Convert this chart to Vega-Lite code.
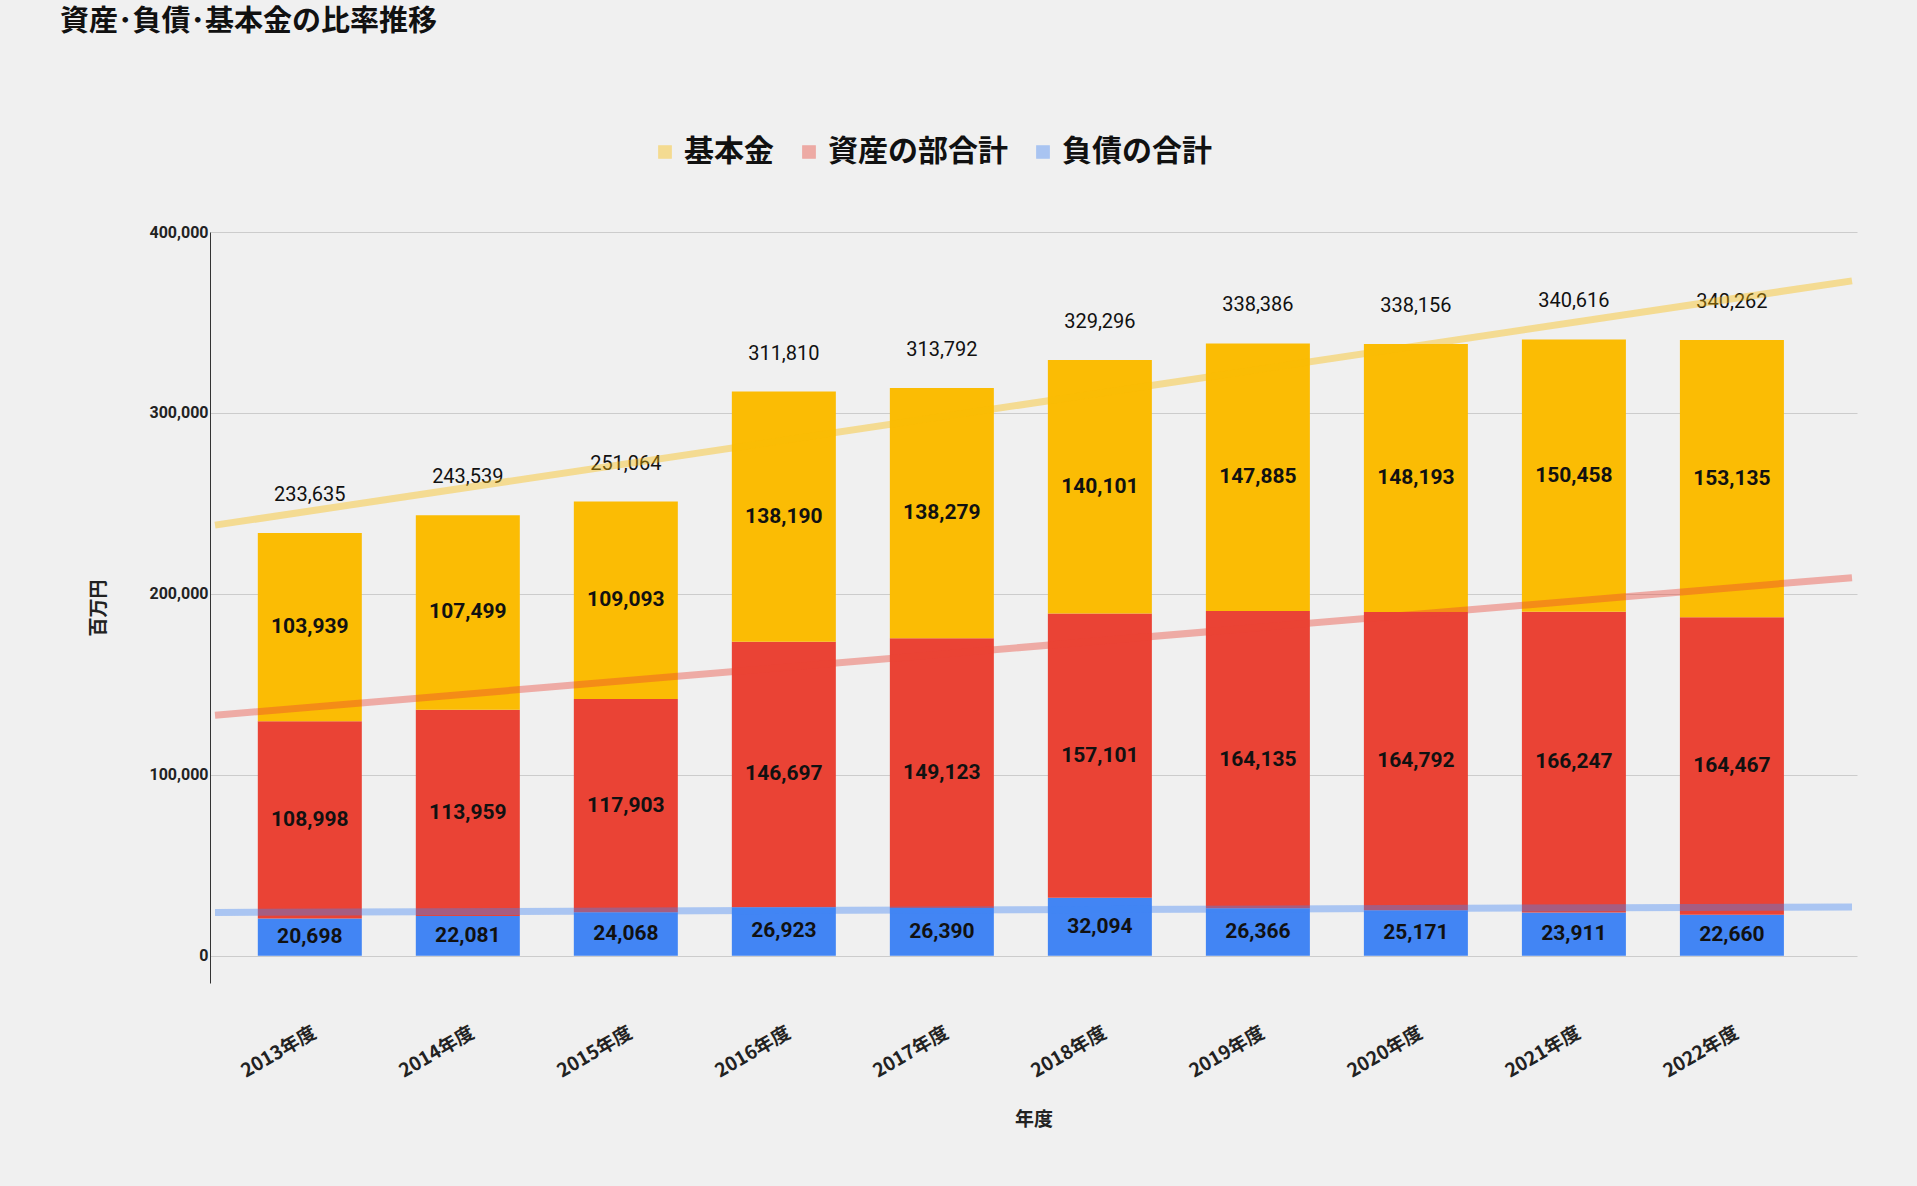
{
  "$schema": "https://vega.github.io/schema/vega-lite/v6.json",
  "width": 1647,
  "height": 751,
  "autosize": {"type": "none"},
  "padding": {"left": 210, "top": 232, "right": 60, "bottom": 203},
  "background": "#F0F0F0",
  "config": {
    "font": "Noto Sans CJK JP",
    "view": {"stroke": null},
    "axis": {"labelFont": "Roboto", "titleFont": "Noto Sans CJK JP", "titleFontSize": 19, "titleFontWeight": "bold", "labelFontWeight": "bold", "labelColor": "#222", "titleColor": "#222"}
  },
  "title": {"text": "資産･負債･基本金の比率推移", "anchor": "start", "frame": "group", "dx": -150, "offset": 100, "fontSize": 29, "fontWeight": "bold", "color": "#111"},
  "datasets": {
    "bars": [
      {"year": 2013, "cat": "負債の合計", "ord": 0, "value": 20698},
      {"year": 2013, "cat": "資産の部合計", "ord": 1, "value": 108998},
      {"year": 2013, "cat": "基本金", "ord": 2, "value": 103939},
      {"year": 2014, "cat": "負債の合計", "ord": 0, "value": 22081},
      {"year": 2014, "cat": "資産の部合計", "ord": 1, "value": 113959},
      {"year": 2014, "cat": "基本金", "ord": 2, "value": 107499},
      {"year": 2015, "cat": "負債の合計", "ord": 0, "value": 24068},
      {"year": 2015, "cat": "資産の部合計", "ord": 1, "value": 117903},
      {"year": 2015, "cat": "基本金", "ord": 2, "value": 109093},
      {"year": 2016, "cat": "負債の合計", "ord": 0, "value": 26923},
      {"year": 2016, "cat": "資産の部合計", "ord": 1, "value": 146697},
      {"year": 2016, "cat": "基本金", "ord": 2, "value": 138190},
      {"year": 2017, "cat": "負債の合計", "ord": 0, "value": 26390},
      {"year": 2017, "cat": "資産の部合計", "ord": 1, "value": 149123},
      {"year": 2017, "cat": "基本金", "ord": 2, "value": 138279},
      {"year": 2018, "cat": "負債の合計", "ord": 0, "value": 32094},
      {"year": 2018, "cat": "資産の部合計", "ord": 1, "value": 157101},
      {"year": 2018, "cat": "基本金", "ord": 2, "value": 140101},
      {"year": 2019, "cat": "負債の合計", "ord": 0, "value": 26366},
      {"year": 2019, "cat": "資産の部合計", "ord": 1, "value": 164135},
      {"year": 2019, "cat": "基本金", "ord": 2, "value": 147885},
      {"year": 2020, "cat": "負債の合計", "ord": 0, "value": 25171},
      {"year": 2020, "cat": "資産の部合計", "ord": 1, "value": 164792},
      {"year": 2020, "cat": "基本金", "ord": 2, "value": 148193},
      {"year": 2021, "cat": "負債の合計", "ord": 0, "value": 23911},
      {"year": 2021, "cat": "資産の部合計", "ord": 1, "value": 166247},
      {"year": 2021, "cat": "基本金", "ord": 2, "value": 150458},
      {"year": 2022, "cat": "負債の合計", "ord": 0, "value": 22660},
      {"year": 2022, "cat": "資産の部合計", "ord": 1, "value": 164467},
      {"year": 2022, "cat": "基本金", "ord": 2, "value": 153135}
    ],
    "trends": [
      {"cat": "基本金", "x": 2012.4, "y": 238000},
      {"cat": "基本金", "x": 2022.76, "y": 373000},
      {"cat": "資産の部合計", "x": 2012.4, "y": 133000},
      {"cat": "資産の部合計", "x": 2022.76, "y": 209000},
      {"cat": "負債の合計", "x": 2012.4, "y": 24000},
      {"cat": "負債の合計", "x": 2022.76, "y": 27000}
    ]
  },
  "layer": [
    {
      "data": {"name": "bars"},
      "transform": [
        {"stack": "value", "groupby": ["year"], "sort": [{"field": "ord"}], "as": ["y0", "y1"]},
        {"calculate": "(datum.y0 + datum.y1) / 2", "as": "ymid"}
      ],
      "layer": [
        {
          "mark": {"type": "bar", "width": 104},
          "encoding": {
            "x": {"field": "year", "type": "quantitative", "scale": {"domain": [2012.4, 2022.76], "nice": false, "zero": false},
              "axis": {"values": [2013, 2014, 2015, 2016, 2017, 2018, 2019, 2020, 2021, 2022], "labelExpr": "datum.value + '年度'", "labelAngle": -30, "labelAlign": "right", "labelBaseline": "top", "labelFontSize": 19, "labelFont": "Noto Sans CJK JP", "labelPadding": 40, "ticks": false, "domain": false, "grid": false, "title": "年度", "titlePadding": 30}},
            "y": {"field": "y0", "type": "quantitative", "scale": {"domain": [-15000, 400000], "nice": false},
              "axis": {"values": [0, 100000, 200000, 300000, 400000], "format": ",d", "labelFontSize": 16, "gridColor": "#CCCCCC", "ticks": false, "domain": true, "domainColor": "#333", "title": "百万円", "titlePadding": 40}},
            "y2": {"field": "y1"},
            "color": {"field": "cat", "type": "nominal",
              "scale": {"domain": ["基本金", "資産の部合計", "負債の合計"], "range": ["#FBBC04", "#EA4335", "#4285F4"]},
              "legend": {"title": null, "orient": "none", "legendX": 440, "legendY": -95, "direction": "horizontal", "symbolType": "square", "symbolSize": 150, "symbolOpacity": 1, "labelLimit": 400, "labelFontSize": 30, "labelFontWeight": "bold", "labelColor": "#111", "columnPadding": 20}}
          }
        },
        {
          "mark": {"type": "text", "fontSize": 21, "fontWeight": "bold", "font": "Roboto", "color": "#111"},
          "encoding": {
            "x": {"field": "year", "type": "quantitative"},
            "y": {"field": "ymid", "type": "quantitative"},
            "text": {"field": "value", "type": "quantitative", "format": ","}
          }
        }
      ]
    },
    {
      "data": {"name": "bars"},
      "transform": [{"aggregate": [{"op": "sum", "field": "value", "as": "total"}], "groupby": ["year"]}],
      "mark": {"type": "text", "fontSize": 20, "font": "Roboto", "color": "#111", "dy": -38},
      "encoding": {
        "x": {"field": "year", "type": "quantitative"},
        "y": {"field": "total", "type": "quantitative"},
        "text": {"field": "total", "type": "quantitative", "format": ","}
      }
    },
    {
      "data": {"name": "trends"},
      "mark": {"type": "line", "strokeWidth": 7, "opacity": 0.4},
      "encoding": {
        "x": {"field": "x", "type": "quantitative"},
        "y": {"field": "y", "type": "quantitative"},
        "detail": {"field": "cat"},
        "color": {"field": "cat", "type": "nominal"}
      }
    }
  ]
}
